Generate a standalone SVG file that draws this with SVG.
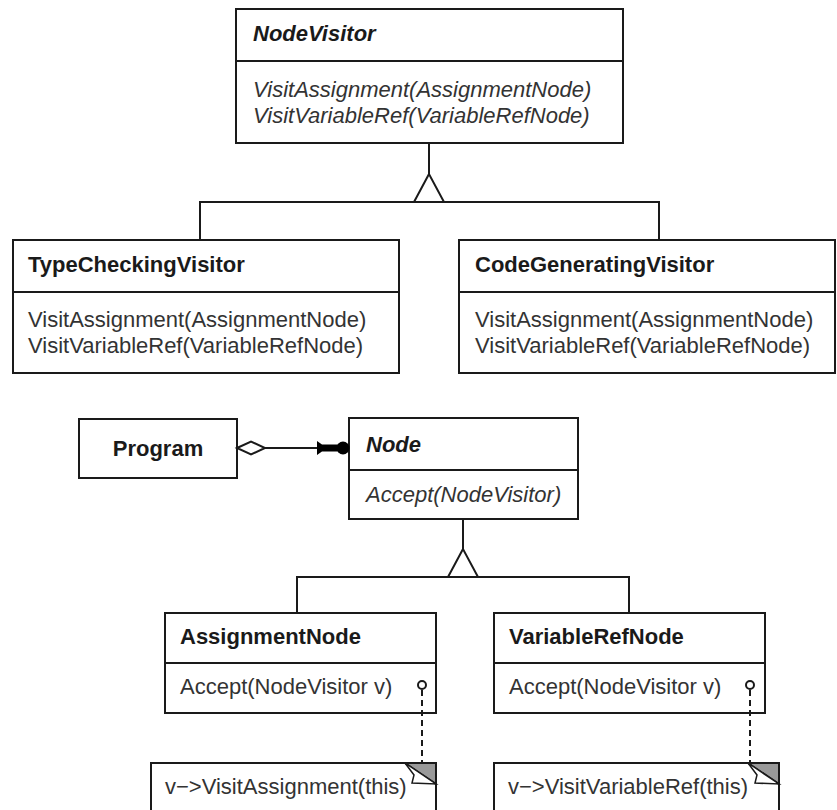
<svg xmlns="http://www.w3.org/2000/svg" width="837" height="810" viewBox="0 0 837 810">
<style>
  .box { fill: #ffffff; stroke: #1a1a1a; stroke-width: 2; }
  .div { stroke: #1a1a1a; stroke-width: 2; fill: none; }
  .ln { stroke: #1a1a1a; stroke-width: 2; fill: none; }
  .tri { fill: #ffffff; stroke: #1a1a1a; stroke-width: 2; stroke-linejoin: miter; }
  .dash { stroke: #1a1a1a; stroke-width: 2; stroke-dasharray: 6 4; fill: none; }
  .t { font-family: "Liberation Sans", Arial, Helvetica, sans-serif; font-size: 22px; fill: #1a1a1a; }
  .b { font-weight: bold; }
  .i { font-style: italic; }
  .m { fill: #333333; }
</style>
<rect width="837" height="810" fill="#ffffff"/>

<g id="NodeVisitor">
  <rect class="box" x="236" y="9" width="387" height="134"/>
  <line class="div" x1="236" y1="61" x2="623" y2="61"/>
  <text class="t b i" x="253" y="41">NodeVisitor</text>
  <text class="t i m" x="253" y="97">VisitAssignment(AssignmentNode)</text>
  <text class="t i m" x="253" y="123">VisitVariableRef(VariableRefNode)</text>
</g>

<g id="TypeCheckingVisitor">
  <rect class="box" x="13" y="240" width="386" height="133"/>
  <line class="div" x1="13" y1="292" x2="399" y2="292"/>
  <text class="t b" x="28" y="272">TypeCheckingVisitor</text>
  <text class="t m" x="28" y="327">VisitAssignment(AssignmentNode)</text>
  <text class="t m" x="28" y="353">VisitVariableRef(VariableRefNode)</text>
</g>

<g id="CodeGeneratingVisitor">
  <rect class="box" x="459" y="240" width="376" height="133"/>
  <line class="div" x1="459" y1="292" x2="835" y2="292"/>
  <text class="t b" x="475" y="272">CodeGeneratingVisitor</text>
  <text class="t m" x="475" y="327">VisitAssignment(AssignmentNode)</text>
  <text class="t m" x="475" y="353">VisitVariableRef(VariableRefNode)</text>
</g>

<g id="Program">
  <rect class="box" x="79" y="419" width="158" height="59"/>
  <text class="t b" x="158" y="456" text-anchor="middle">Program</text>
</g>

<g id="Node">
  <rect class="box" x="349" y="418" width="229" height="101"/>
  <line class="div" x1="349" y1="470" x2="578" y2="470"/>
  <text class="t b i" x="366" y="452">Node</text>
  <text class="t i m" x="366" y="502">Accept(NodeVisitor)</text>
</g>

<g id="AssignmentNode">
  <rect class="box" x="165" y="613" width="271" height="100"/>
  <line class="div" x1="165" y1="663" x2="436" y2="663"/>
  <text class="t b" x="180" y="644">AssignmentNode</text>
  <text class="t m" x="180" y="694">Accept(NodeVisitor v)</text>
</g>

<g id="VariableRefNode">
  <rect class="box" x="494" y="613" width="271" height="100"/>
  <line class="div" x1="494" y1="663" x2="765" y2="663"/>
  <text class="t b" x="509" y="644">VariableRefNode</text>
  <text class="t m" x="509" y="694">Accept(NodeVisitor v)</text>
</g>

<g id="NoteAssignment">
  <rect class="box" x="151" y="763" width="285" height="60"/>
  <polygon fill="#999999" stroke="#1a1a1a" stroke-width="2" points="405,763 436,763 436,784"/>
  <polygon fill="#ffffff" stroke="#1a1a1a" stroke-width="1.5" points="405,763 414,775 412,783 436,784"/>
  <text class="t m" x="165" y="794">v−&gt;VisitAssignment(this)</text>
</g>

<g id="NoteVariableRef">
  <rect class="box" x="494" y="763" width="285" height="60"/>
  <polygon fill="#999999" stroke="#1a1a1a" stroke-width="2" points="748,763 779,763 779,784"/>
  <polygon fill="#ffffff" stroke="#1a1a1a" stroke-width="1.5" points="748,763 757,775 755,783 779,784"/>
  <text class="t m" x="508" y="794">v−&gt;VisitVariableRef(this)</text>
</g>

<g id="connectors">
  <!-- NodeVisitor inheritance -->
  <line class="ln" x1="429" y1="143" x2="429" y2="174"/>
  <polyline class="ln" points="200,240 200,202 659,202 659,240"/>
  <polygon class="tri" points="429,174 414,202 444,202"/>
  <!-- Node inheritance -->
  <line class="ln" x1="463" y1="519" x2="463" y2="549"/>
  <polyline class="ln" points="297,613 297,577 629,577 629,613"/>
  <polygon class="tri" points="463,549 448,577 478,577"/>
  <!-- Program - Node aggregation -->
  <line class="ln" x1="265" y1="448" x2="320" y2="448"/>
  <polygon class="tri" points="237,448 251,441.5 265,448 251,454.5"/>
  <polygon fill="#000000" points="317,441 322,444.5 338,444.5 338,451.5 322,451.5 317,455"/>
  <circle cx="343" cy="448" r="6.5" fill="#000000"/>
  <!-- note links -->
  <line class="dash" x1="422" y1="690" x2="422" y2="763"/>
  <circle cx="422" cy="685" r="4" fill="#ffffff" stroke="#1a1a1a" stroke-width="2"/>
  <line class="dash" x1="750" y1="690" x2="750" y2="763"/>
  <circle cx="750" cy="685" r="4" fill="#ffffff" stroke="#1a1a1a" stroke-width="2"/>
</g>
</svg>
